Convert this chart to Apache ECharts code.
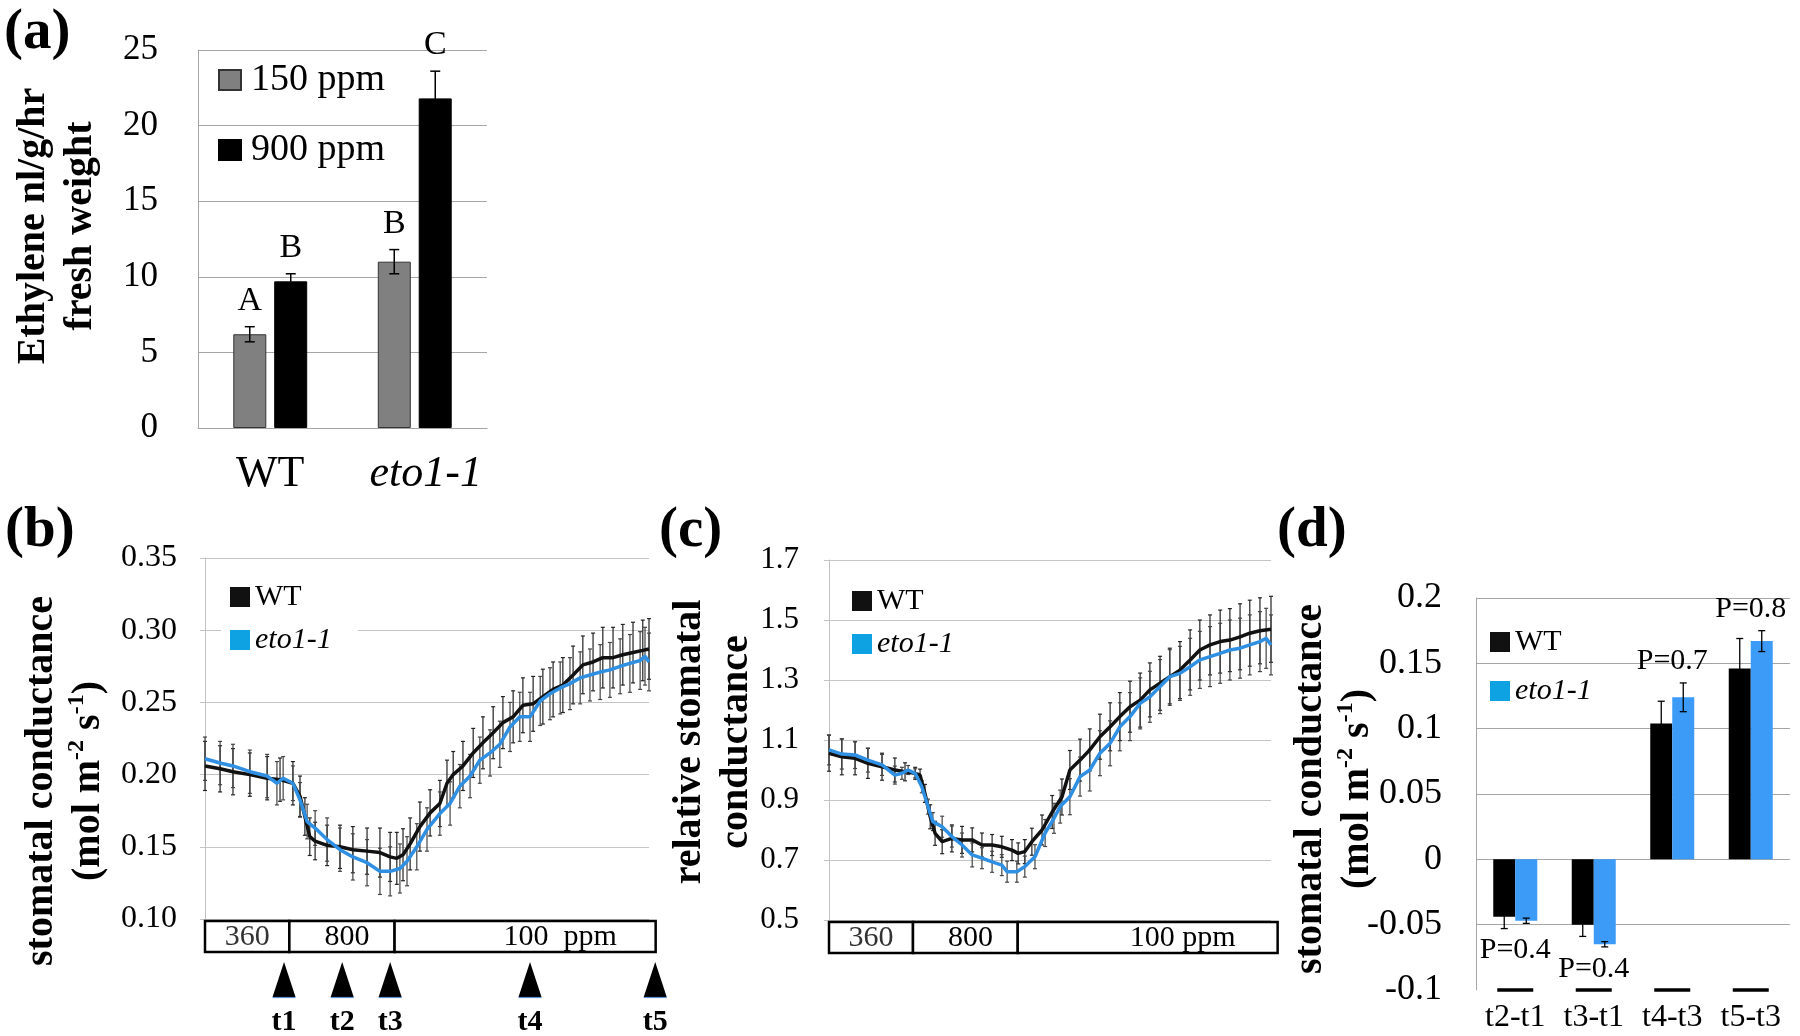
<!DOCTYPE html>
<html>
<head>
<meta charset="utf-8">
<title>Ethylene and stomatal conductance</title>
<script src="https://cdn.jsdelivr.net/npm/echarts@6.0.0/dist/echarts.min.js"></script>
<style>
  html, body { margin: 0; background: #fff; }
  #chart { width: 1800px; height: 1036px; }
</style>
</head>
<body>
<div id="chart"></div>
<script>
const SERIF = 'Liberation Serif'

// (a) ethylene production, nl/g/hr fresh weight
const genotypes = ['WT', 'eto1-1']
const eth150 = [6.2, 11.0]
const eth150Err = [0.5, 0.8]
const eth900 = [9.7, 21.8]
const eth900Err = [0.5, 1.8]
const letters150 = ['A', 'B']
const letters900 = ['B', 'C']

// (b) stomatal conductance traces: [time (% of run), mean, sd]
const gsWT = [[0,.206,.017],[3.4,.204,.016],[6.3,.202,.016],[10.1,.200,.015],[14,.1975,.015],[16.9,.1965,.015],[19.8,.194,.015],[21.4,.185,.014],[22.5,.171,.013],[23.6,.157,.013],[24.8,.154,.013],[27.5,.151,.014],[30.4,.150,.015],[33.3,.148,.016],[36.5,.147,.016],[39.4,.146,.017],[41.7,.143,.017],[43.2,.142,.018],[44.6,.1445,.018],[46.2,.152,.018],[48.4,.164,.017],[50.7,.1735,.016],[52.9,.180,.016],[54.5,.194,.016],[55.9,.200,.016],[58.1,.206,.017],[60.4,.215,.017],[62.6,.222,.018],[64.9,.229,.018],[67.1,.236,.018],[69.4,.240,.018],[71.6,.248,.019],[73.9,.249,.019],[76.1,.254,.019],[78.4,.259,.019],[80.6,.262,.019],[82.9,.269,.02],[85.1,.276,.02],[87.4,.278,.02],[89.6,.281,.021],[91.9,.281,.021],[94.1,.283,.021],[96.4,.2845,.021],[98.6,.286,.021],[100,.287,.021]]
const gsEto = [[0,.211,.015],[3.4,.208,.015],[6.3,.206,.015],[10.1,.202,.015],[14,.199,.015],[16.2,.194,.015],[17.6,.1975,.015],[19.8,.194,.012],[21.4,.1825,.012],[23,.1675,.012],[24.8,.163,.012],[27.5,.155,.015],[30.4,.148,.015],[33.3,.143,.016],[36.5,.139,.016],[39.4,.133,.016],[41.7,.133,.017],[43.9,.135,.017],[45.5,.140,.017],[47.7,.150,.016],[50,.162,.015],[52.9,.173,.015],[55.2,.180,.015],[57.4,.192,.015],[59.7,.199,.015],[61.9,.210,.016],[64.2,.215,.016],[66.4,.221,.016],[68.7,.233,.017],[70.9,.240,.017],[73.2,.240,.017],[75.5,.251,.017],[77.7,.256,.018],[80,.260,.018],[82.2,.263,.018],[84.5,.267,.018],[86.7,.269,.018],[89,.271,.019],[91.2,.2725,.019],[93.5,.275,.019],[95.7,.277,.02],[98,.279,.02],[99.1,.282,.02],[100,.278,.02]]

// (c) relative stomatal conductance: [time (% of run), mean, sd]
const relWT = [[0,1.056,.06],[2.9,1.044,.06],[5.9,1.039,.055],[8.8,1.022,.05],[12,1.011,.045],[14.9,1.0,.04],[17.2,.994,.03],[19.5,.989,.02],[20.6,.983,.02],[21.7,.922,.03],[22.9,.844,.04],[24,.789,.04],[25.6,.761,.04],[27.8,.772,.045],[30.1,.767,.045],[32.4,.767,.04],[34.6,.75,.04],[36.9,.75,.035],[39.1,.744,.035],[41.4,.733,.035],[42.8,.722,.035],[44.3,.728,.04],[45.9,.761,.045],[48.2,.8,.05],[50.5,.86,.055],[52.7,.91,.06],[54.5,1.0,.065],[56.8,1.033,.07],[59,1.067,.07],[61.3,1.111,.075],[63.6,1.144,.08],[65.8,1.178,.08],[68.1,1.211,.085],[70.4,1.233,.09],[72.6,1.267,.09],[74.9,1.289,.09],[77.1,1.311,.095],[79.4,1.333,.095],[81.7,1.367,.1],[83.9,1.4,.1],[86.2,1.417,.1],[88.5,1.428,.105],[90.7,1.433,.105],[93,1.444,.11],[95.2,1.456,.11],[97.5,1.464,.11],[100,1.469,.11]]
const relEto = [[0,1.067,.05],[2.9,1.053,.05],[5.9,1.05,.045],[8.8,1.033,.04],[12,1.017,.035],[14.9,.983,.03],[16.5,.989,.02],[17.9,1.0,.015],[19.5,.989,.015],[21,.944,.02],[22.4,.878,.025],[23.5,.828,.03],[25.6,.811,.035],[27.8,.778,.035],[30.1,.75,.04],[32.4,.717,.04],[34.6,.706,.035],[36.9,.694,.035],[39.1,.683,.035],[40.3,.661,.035],[42.5,.661,.035],[44.3,.678,.035],[46.6,.711,.04],[48.9,.79,.045],[50.9,.839,.05],[52.3,.878,.055],[54.5,.911,.06],[56.8,.978,.065],[59,1.0,.07],[61.3,1.056,.075],[63.6,1.089,.075],[65.8,1.144,.08],[68.1,1.178,.08],[70.4,1.222,.085],[72.6,1.244,.085],[74.9,1.278,.09],[77.1,1.311,.09],[79.4,1.322,.09],[81.7,1.344,.095],[83.9,1.367,.095],[86.2,1.378,.1],[88.5,1.389,.1],[90.7,1.4,.1],[93,1.406,.1],[95.2,1.417,.1],[97.5,1.428,.1],[98.9,1.439,.1],[100,1.417,.1]]

// CO2 schedule under (b) and (c): [start, end] in % of run
const co2Phases = [[0, 19], [19, 42.7], [42.7, 101.5]]
const co2LabelsB = ['360', '800', '100  ppm']
const co2LabelsC = ['360', '800', '100 ppm']
const co2LabelAt = [9.5, 32, 80]
const timePoints = [17.8, 30.9, 41.7, 73.2, 101.4]
const timeLabels = ['t1', 't2', 't3', 't4', 't5']

// (d) change in stomatal conductance between time points
const intervals = ['t2-t1', 't3-t1', 't4-t3', 't5-t3']
const dWT = [-0.044, -0.050, 0.104, 0.146]
const dWTErr = [0.009, 0.009, 0.017, 0.023]
const dEto = [-0.047, -0.065, 0.124, 0.167]
const dEtoErr = [0.002, 0.002, 0.011, 0.008]
const pValues = ['P=0.4', 'P=0.4', 'P=0.7', 'P=0.8']

const BLUE_LINE = '#2f8fe3'
const BLUE_BAR = '#3b9bf7'
const BLUE_KEY = '#0ea2e2'

const txt = (extra) => Object.assign({ fontFamily: SERIF, fill: '#000' }, extra)

// vertical error bar with caps, optional text above
function errorBar(offset, cap, color, lw, labels, labelGap, labelSize) {
  return function (params, api) {
    const x = api.value(0), m = api.value(1), e = api.value(2)
    const hi = api.coord([x, m + e]), lo = api.coord([x, m - e])
    const cx = hi[0] + offset
    const st = { stroke: color, lineWidth: lw }
    const children = [
      { type: 'line', shape: { x1: cx, y1: hi[1], x2: cx, y2: lo[1] }, style: st },
      { type: 'line', shape: { x1: cx - cap, y1: hi[1], x2: cx + cap, y2: hi[1] }, style: st },
      { type: 'line', shape: { x1: cx - cap, y1: lo[1], x2: cx + cap, y2: lo[1] }, style: st }
    ]
    if (labels) {
      children.push({
        type: 'text', x: cx, y: hi[1] - labelGap,
        style: txt({ text: labels[params.dataIndex], fontSize: labelSize,
          textAlign: 'center', textVerticalAlign: 'middle', align: 'center', verticalAlign: 'middle' })
      })
    }
    return { type: 'group', children }
  }
}

function co2Box(labels) {
  return function (params, api) {
    const cs = params.coordSys
    const bottom = cs.y + cs.height
    const i = params.dataIndex
    const x0 = api.coord([api.value(0), 0])[0]
    const x1 = api.coord([api.value(1), 0])[0]
    const lx = api.coord([co2LabelAt[i], 0])[0]
    return {
      type: 'group',
      children: [
        { type: 'rect', shape: { x: x0, y: bottom + 2, width: x1 - x0, height: 31 },
          style: { fill: '#fff', stroke: '#000', lineWidth: 2.5 } },
        { type: 'text', x: lx, y: bottom + 18,
          style: txt({ text: labels[i], fontSize: 30, fill: i === 0 ? '#333' : '#000',
            textAlign: 'center', textVerticalAlign: 'middle', align: 'center', verticalAlign: 'middle' }) }
      ]
    }
  }
}

function timeArrow(params, api) {
  const cs = params.coordSys
  const bottom = cs.y + cs.height
  const cx = api.coord([api.value(0), 0])[0]
  return {
    type: 'group',
    children: [
      { type: 'polygon', shape: { points: [[cx, bottom + 43], [cx - 11.5, bottom + 78], [cx + 11.5, bottom + 78]] },
        style: { fill: '#000' } },
      { type: 'line', shape: { x1: cx - 11.5, y1: bottom + 78.5, x2: cx + 11.5, y2: bottom + 78.5 },
        style: { stroke: '#5a8ed6', lineWidth: 1.2 } },
      { type: 'text', x: cx, y: bottom + 103,
        style: txt({ text: timeLabels[params.dataIndex], fontSize: 30, fontWeight: 'bold',
          textAlign: 'center', textVerticalAlign: 'middle', align: 'center', verticalAlign: 'middle' }) }
    ]
  }
}

const pAnchor = intervals.map((_, i) => dWT[i] > 0
  ? Math.max(dWT[i] + dWTErr[i], dEto[i] + dEtoErr[i])
  : Math.min(dWT[i] - dWTErr[i], dEto[i] - dEtoErr[i]))

function pLabel(params, api) {
  const i = params.dataIndex
  const p = api.coord([i, pAnchor[i]])
  return {
    type: 'text', x: p[0], y: p[1] + (pAnchor[i] > 0 ? -22 : 22),
    style: txt({ text: pValues[i], fontSize: 30, textAlign: 'center', textVerticalAlign: 'middle',
      align: 'center', verticalAlign: 'middle' })
  }
}

function catDash(params, api) {
  const cs = params.coordSys
  const cx = api.coord([params.dataIndex, 0])[0]
  const y = cs.y + cs.height
  return { type: 'line', shape: { x1: cx - 18, y1: y, x2: cx + 18, y2: y }, style: { stroke: '#000', lineWidth: 3.5 } }
}

const tick = (size) => ({ fontFamily: SERIF, fontSize: size, color: '#000' })
const italicRich = (size, pad) => ({ i: { fontFamily: SERIF, fontSize: size, fontStyle: 'italic', color: '#000', padding: pad || 0 } })
const italicName = (n) => n === 'eto1-1' ? '{i|eto1-1}' : n

function panelLabel(text, x, y) {
  return { type: 'text', x, y, z: 10,
    style: txt({ text, fontSize: 57, fontWeight: 'bold', textAlign: 'left', textVerticalAlign: 'middle',
      align: 'left', verticalAlign: 'middle' }) }
}
function axisTitle(text, x, y) {
  return { type: 'text', x, y, rotation: Math.PI / 2, z: 10,
    style: txt({ text, fontSize: 40, fontWeight: 'bold', lineHeight: 47,
      textAlign: 'center', textVerticalAlign: 'middle', align: 'center', verticalAlign: 'middle',
      rich: { s: { fontFamily: SERIF, fontSize: 24, fontWeight: 'bold', lineHeight: 20, verticalAlign: 'top' } } }) }
}

function keyLegend(left, top, gap, pad, bg) {
  return {
    orient: 'vertical', left, top, itemWidth: 20, itemHeight: 20, itemGap: gap,
    padding: pad, backgroundColor: bg, selectedMode: false,
    data: [{ name: 'WT', icon: 'rect', itemStyle: { color: '#111' } },
           { name: 'eto1-1', icon: 'rect', itemStyle: { color: BLUE_KEY } }],
    formatter: italicName,
    textStyle: { fontFamily: SERIF, fontSize: 30, color: '#000', rich: italicRich(30) }
  }
}

const chart = echarts.init(document.getElementById('chart'))

chart.setOption({
  animation: false,
  backgroundColor: '#fff',
  grid: [
    { left: 198, top: 50, width: 289, height: 378 },
    { left: 205, top: 558, width: 444, height: 361 },
    { left: 829, top: 560, width: 442, height: 360 },
    { left: 1476, top: 598, width: 314, height: 392 }
  ],
  xAxis: [
    { gridIndex: 0, type: 'category', data: genotypes, axisTick: { show: false },
      axisLine: { lineStyle: { color: '#a6a6a6' } },
      axisLabel: Object.assign(tick(44), { margin: 24, interval: 0, formatter: italicName,
        rich: italicRich(44, [0, 0, 0, 22]) }) },
    { gridIndex: 1, type: 'value', min: 0, max: 100, show: false },
    { gridIndex: 2, type: 'value', min: 0, max: 100, show: false },
    { gridIndex: 3, type: 'category', data: intervals, axisTick: { show: false },
      axisLine: { show: false, onZero: false },
      axisLabel: Object.assign(tick(32), { margin: 12, interval: 0 }) }
  ],
  yAxis: [
    { gridIndex: 0, type: 'value', min: 0, max: 25, interval: 5,
      axisLine: { show: true, lineStyle: { color: '#a6a6a6' } },
      splitLine: { lineStyle: { color: '#a6a6a6' } },
      axisLabel: Object.assign(tick(35), { margin: 40 }) },
    { gridIndex: 1, type: 'value', min: 0.1, max: 0.35, interval: 0.05,
      axisLine: { show: true, lineStyle: { color: '#c4c4c4' } },
      splitLine: { lineStyle: { color: '#c4c4c4' } },
      axisLabel: Object.assign(tick(32), { margin: 28, formatter: v => v.toFixed(2) }) },
    { gridIndex: 2, type: 'value', min: 0.5, max: 1.7, interval: 0.2,
      axisLine: { show: true, lineStyle: { color: '#c4c4c4' } },
      splitLine: { lineStyle: { color: '#c4c4c4' } },
      axisLabel: Object.assign(tick(31), { margin: 30, formatter: v => v.toFixed(1) }) },
    { gridIndex: 3, type: 'value', min: -0.1, max: 0.2, interval: 0.05,
      axisLine: { show: true, lineStyle: { color: '#a6a6a6' } },
      splitLine: { showMinLine: false, lineStyle: { color: '#a6a6a6' } },
      axisLabel: Object.assign(tick(36), { margin: 34, formatter: v => String(parseFloat(v.toFixed(2))) }) }
  ],
  legend: [
    { orient: 'vertical', left: 213, top: 56, itemWidth: 22, itemHeight: 20, itemGap: 32,
      selectedMode: false, data: [{ name: '150 ppm', icon: 'rect' }, { name: '900 ppm', icon: 'rect' }],
      textStyle: { fontFamily: SERIF, fontSize: 38, color: '#000', padding: [0, 0, 0, 5] } },
    keyLegend(221, 578, 13, [4, 26, 4, 9], '#fff'),
    keyLegend(852, 586, 13, 0, 'transparent'),
    keyLegend(1490, 627, 19, 0, 'transparent')
  ],
  series: [
    // (a)
    { name: '150 ppm', type: 'bar', xAxisIndex: 0, yAxisIndex: 0, data: eth150,
      barWidth: 33, barGap: '24%', itemStyle: { color: '#808080', borderColor: '#333', borderWidth: 1 } },
    { name: '900 ppm', type: 'bar', xAxisIndex: 0, yAxisIndex: 0, data: eth900,
      barWidth: 33, barGap: '24%', itemStyle: { color: '#000', borderColor: '#000', borderWidth: 1 } },
    { type: 'custom', xAxisIndex: 0, yAxisIndex: 0, z: 4, silent: true, encode: { x: 0, y: 1 },
      data: genotypes.map((g, i) => [i, eth150[i], eth150Err[i]]),
      renderItem: errorBar(-20.5, 5, '#000', 1.5, letters150, 26, 34) },
    { type: 'custom', xAxisIndex: 0, yAxisIndex: 0, z: 4, silent: true, encode: { x: 0, y: 1 },
      data: genotypes.map((g, i) => [i, eth900[i], eth900Err[i]]),
      renderItem: errorBar(20.5, 5, '#000', 1.5, letters900, 26, 34) },

    // (b)
    { type: 'custom', xAxisIndex: 1, yAxisIndex: 1, z: 2, silent: true, encode: { x: 0, y: 1 },
      data: gsWT, renderItem: errorBar(0, 2, '#222', 1.2) },
    { type: 'custom', xAxisIndex: 1, yAxisIndex: 1, z: 2, silent: true, encode: { x: 0, y: 1 },
      data: gsEto, renderItem: errorBar(0, 2, '#444', 1.2) },
    { name: 'WT', type: 'line', xAxisIndex: 1, yAxisIndex: 1, z: 3, showSymbol: false,
      data: gsWT.map(d => [d[0], d[1]]), itemStyle: { color: '#111' }, lineStyle: { color: '#111', width: 3.5 } },
    { name: 'eto1-1', type: 'line', xAxisIndex: 1, yAxisIndex: 1, z: 3, showSymbol: false,
      data: gsEto.map(d => [d[0], d[1]]), itemStyle: { color: BLUE_LINE }, lineStyle: { color: BLUE_LINE, width: 3.5 } },
    { type: 'custom', xAxisIndex: 1, yAxisIndex: 1, z: 5, silent: true, clip: false, encode: { x: [0, 1] },
      data: co2Phases, renderItem: co2Box(co2LabelsB) },
    { type: 'custom', xAxisIndex: 1, yAxisIndex: 1, z: 5, silent: true, clip: false, encode: { x: 0 },
      data: timePoints.map(t => [t]), renderItem: timeArrow },

    // (c)
    { type: 'custom', xAxisIndex: 2, yAxisIndex: 2, z: 2, silent: true, encode: { x: 0, y: 1 },
      data: relWT, renderItem: errorBar(0, 2, '#222', 1.2) },
    { type: 'custom', xAxisIndex: 2, yAxisIndex: 2, z: 2, silent: true, encode: { x: 0, y: 1 },
      data: relEto, renderItem: errorBar(0, 2, '#444', 1.2) },
    { name: 'WT', type: 'line', xAxisIndex: 2, yAxisIndex: 2, z: 3, showSymbol: false,
      data: relWT.map(d => [d[0], d[1]]), itemStyle: { color: '#111' }, lineStyle: { color: '#111', width: 3.5 } },
    { name: 'eto1-1', type: 'line', xAxisIndex: 2, yAxisIndex: 2, z: 3, showSymbol: false,
      data: relEto.map(d => [d[0], d[1]]), itemStyle: { color: BLUE_LINE }, lineStyle: { color: BLUE_LINE, width: 3.5 } },
    { type: 'custom', xAxisIndex: 2, yAxisIndex: 2, z: 5, silent: true, clip: false, encode: { x: [0, 1] },
      data: co2Phases, renderItem: co2Box(co2LabelsC) },

    // (d)
    { name: 'WT', type: 'bar', xAxisIndex: 3, yAxisIndex: 3, data: dWT, barWidth: 22, barGap: '0%',
      itemStyle: { color: '#000' } },
    { name: 'eto1-1', type: 'bar', xAxisIndex: 3, yAxisIndex: 3, data: dEto, barWidth: 22, barGap: '0%',
      itemStyle: { color: BLUE_BAR } },
    { type: 'custom', xAxisIndex: 3, yAxisIndex: 3, z: 4, silent: true, encode: { x: 0, y: 1 },
      data: intervals.map((c, i) => [i, dWT[i], dWTErr[i]]), renderItem: errorBar(-11, 3.5, '#000', 1.3) },
    { type: 'custom', xAxisIndex: 3, yAxisIndex: 3, z: 4, silent: true, encode: { x: 0, y: 1 },
      data: intervals.map((c, i) => [i, dEto[i], dEtoErr[i]]), renderItem: errorBar(11, 3.5, '#000', 1.3) },
    { type: 'custom', xAxisIndex: 3, yAxisIndex: 3, z: 5, silent: true, clip: false, encode: { x: 0, y: 1 },
      data: intervals.map((c, i) => [i, pAnchor[i]]), renderItem: pLabel },
    { type: 'custom', xAxisIndex: 3, yAxisIndex: 3, z: 5, silent: true, clip: false, encode: { x: 0, y: 1 },
      data: intervals.map((c, i) => [i, -0.1]), renderItem: catDash }
  ],
  graphic: [
    panelLabel('(a)', 4, 33),
    panelLabel('(b)', 5, 531),
    panelLabel('(c)', 659, 531),
    panelLabel('(d)', 1277, 531),
    axisTitle('Ethylene nl/g/hr\nfresh weight', 57, 226),
    axisTitle('stomatal conductance\n(mol m{s|-2} s{s|-1})', 65, 781),
    axisTitle('relative stomatal\nconductance', 713, 742),
    axisTitle('stomatal conductance\n(mol m{s|-2} s{s|-1})', 1334, 789)
  ]
})
</script>
</body>
</html>
